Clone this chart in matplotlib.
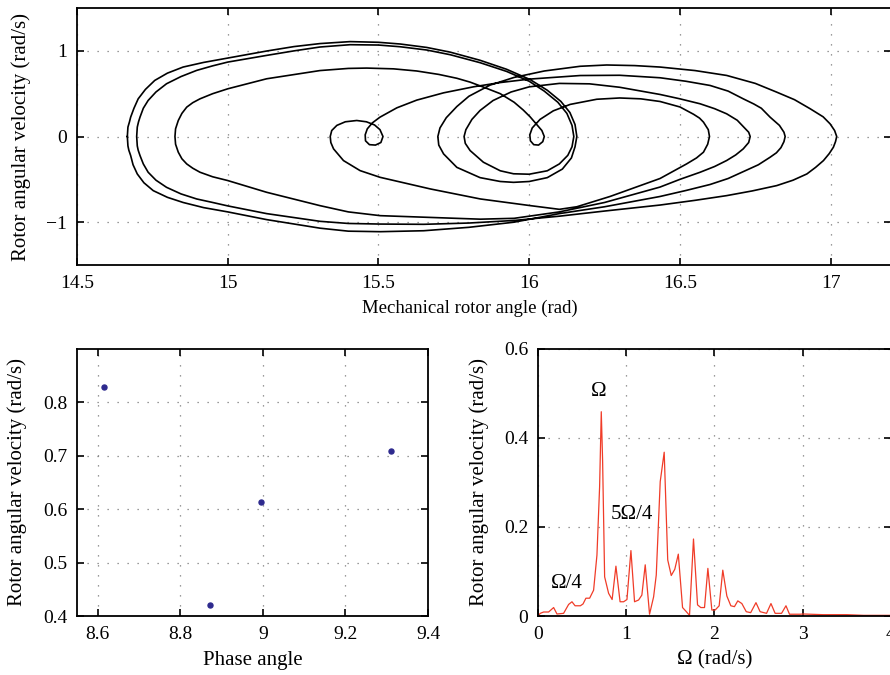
import matplotlib
matplotlib.use('Agg')
import matplotlib.pyplot as plt
import matplotlib.ticker as ticker
import numpy as np

plt.rcParams['font.family'] = ['Liberation Serif', 'DejaVu Serif']

# ---- phase portrait: period-4 orbit (angle rad, velocity rad/s)
# each period starts at the left end of a left loop
period_1 = [(14.667, 0.0), (14.669, 0.11), (14.674, 0.17), (14.678, 0.226), (14.689, 0.33),
            (14.703, 0.44), (14.727, 0.55), (14.758, 0.655), (14.80, 0.74), (14.852, 0.811),
            (14.92, 0.865), (15.0, 0.916), (15.129, 0.998), (15.22, 1.05), (15.306, 1.085),
            (15.406, 1.108), (15.50, 1.10), (15.572, 1.08), (15.66, 1.04), (15.738, 0.985),
            (15.837, 0.89), (15.925, 0.785), (16.003, 0.665), (16.06, 0.54), (16.105, 0.41),
            (16.135, 0.28), (16.152, 0.14), (16.158, 0.0), (16.152, -0.12), (16.14, -0.25),
            (16.11, -0.38), (16.06, -0.48), (16.0, -0.525), (15.948, -0.535), (15.904, -0.525),
            (15.837, -0.48), (15.76, -0.36), (15.716, -0.203), (15.700, -0.10), (15.697, 0.0),
            (15.704, 0.10), (15.725, 0.22), (15.76, 0.35), (15.80, 0.47), (15.87, 0.60),
            (15.95, 0.69), (16.05, 0.765), (16.169, 0.82), (16.257, 0.835), (16.35, 0.828),
            (16.434, 0.811), (16.55, 0.77), (16.655, 0.713), (16.75, 0.62), (16.821, 0.518),
            (16.88, 0.43), (16.932, 0.324), (16.975, 0.23), (16.998, 0.148), (17.013, 0.07),
            (17.020, 0.0), (17.016, -0.06), (17.009, -0.125), (16.995, -0.2), (16.976, -0.281),
            (16.95, -0.36), (16.921, -0.437), (16.875, -0.51), (16.821, -0.573), (16.74, -0.635),
            (16.655, -0.690), (16.55, -0.745), (16.434, -0.80), (16.25, -0.87), (16.10, -0.93),
            (15.95, -0.98), (15.8, -1.01), (15.65, -1.025), (15.506, -1.022), (15.40, -1.015),
            (15.306, -0.99), (15.129, -0.90), (15.0, -0.81), (14.95, -0.77), (14.897, -0.729),
            (14.845, -0.67), (14.797, -0.593), (14.762, -0.51), (14.736, -0.417), (14.72, -0.32),
            (14.709, -0.222), (14.703, -0.16), (14.700, -0.11)]
period_2 = [(14.698, 0.0), (14.700, 0.11), (14.704, 0.17), (14.709, 0.226), (14.72, 0.33),
            (14.736, 0.421), (14.762, 0.52), (14.797, 0.616), (14.845, 0.70), (14.897, 0.772),
            (14.95, 0.825), (15.0, 0.869), (15.129, 0.947), (15.22, 1.0), (15.306, 1.045),
            (15.406, 1.072), (15.50, 1.068), (15.572, 1.048), (15.66, 1.01), (15.738, 0.955),
            (15.837, 0.862), (15.925, 0.76), (16.0, 0.645), (16.05, 0.53), (16.095, 0.40),
            (16.125, 0.27), (16.142, 0.13), (16.148, 0.0), (16.142, -0.12), (16.128, -0.22),
            (16.10, -0.32), (16.06, -0.40), (16.0, -0.44), (15.948, -0.435), (15.904, -0.40),
            (15.848, -0.30), (15.804, -0.164), (15.788, -0.08), (15.784, 0.0), (15.79, 0.08),
            (15.81, 0.2), (15.837, 0.304), (15.88, 0.42), (15.94, 0.52), (16.0, 0.58),
            (16.1, 0.62), (16.2, 0.615), (16.3, 0.575), (16.434, 0.491), (16.50, 0.44),
            (16.567, 0.382), (16.615, 0.325), (16.655, 0.265), (16.69, 0.19), (16.710, 0.117),
            (16.728, 0.05), (16.733, 0.0), (16.728, -0.07), (16.710, -0.144), (16.685, -0.215),
            (16.655, -0.280), (16.615, -0.35), (16.567, -0.417), (16.50, -0.50), (16.434, -0.59),
            (16.25, -0.77), (16.10, -0.88), (15.95, -0.955), (15.838, -0.965), (15.672, -0.945),
            (15.506, -0.924), (15.40, -0.88), (15.306, -0.807), (15.129, -0.651), (15.0, -0.514),
            (14.95, -0.47), (14.908, -0.417), (14.884, -0.37), (14.864, -0.320), (14.848, -0.26),
            (14.836, -0.183), (14.827, -0.09)]
period_3 = [(14.825, 0.0), (14.827, 0.09), (14.836, 0.187), (14.848, 0.27), (14.864, 0.343),
            (14.884, 0.395), (14.908, 0.440), (14.95, 0.50), (15.0, 0.557), (15.129, 0.674),
            (15.306, 0.770), (15.40, 0.795), (15.461, 0.799), (15.55, 0.79), (15.627, 0.765),
            (15.70, 0.725), (15.76, 0.68), (15.804, 0.635), (15.848, 0.577), (15.904, 0.50),
            (15.95, 0.40), (15.98, 0.31), (16.003, 0.23), (16.025, 0.14), (16.042, 0.07),
            (16.050, 0.0), (16.045, -0.06), (16.031, -0.10), (16.015, -0.095), (16.004, -0.05),
            (16.002, 0.02), (16.010, 0.10), (16.036, 0.20), (16.080, 0.30), (16.136, 0.375),
            (16.224, 0.435), (16.30, 0.45), (16.37, 0.44), (16.434, 0.409), (16.50, 0.345),
            (16.545, 0.26), (16.565, 0.215), (16.578, 0.168), (16.594, 0.08), (16.598, 0.0),
            (16.592, -0.09), (16.578, -0.183), (16.555, -0.25), (16.522, -0.320), (16.434, -0.49),
            (16.379, -0.56), (16.268, -0.70), (16.158, -0.82), (16.10, -0.85), (16.004, -0.807),
            (15.838, -0.729), (15.672, -0.612), (15.505, -0.476), (15.439, -0.398), (15.384, -0.281),
            (15.351, -0.144), (15.342, -0.07)]
period_4 = [(15.340, 0.0), (15.345, 0.07), (15.362, 0.13), (15.39, 0.172), (15.428, 0.187),
            (15.46, 0.172), (15.487, 0.135), (15.505, 0.08), (15.515, 0.0), (15.508, -0.07),
            (15.49, -0.10), (15.47, -0.095), (15.457, -0.05), (15.456, 0.02), (15.463, 0.09),
            (15.48, 0.16), (15.505, 0.226), (15.561, 0.335), (15.627, 0.425), (15.716, 0.51),
            (15.815, 0.58), (15.904, 0.63), (16.0, 0.67), (16.169, 0.712), (16.3, 0.715),
            (16.434, 0.686), (16.52, 0.645), (16.600, 0.596), (16.66, 0.53), (16.710, 0.440),
            (16.745, 0.38), (16.77, 0.33), (16.799, 0.226), (16.830, 0.13), (16.845, 0.05),
            (16.849, 0.0), (16.845, -0.06), (16.835, -0.13), (16.82, -0.19), (16.799, -0.242),
            (16.76, -0.33), (16.710, -0.41), (16.66, -0.49), (16.600, -0.56), (16.52, -0.63),
            (16.434, -0.70), (16.25, -0.82), (16.10, -0.90), (15.95, -1.00), (15.8, -1.06),
            (15.65, -1.10), (15.506, -1.111), (15.40, -1.105), (15.306, -1.07), (15.129, -0.97),
            (15.0, -0.88), (14.92, -0.83), (14.852, -0.77), (14.80, -0.71), (14.753, -0.632),
            (14.722, -0.54), (14.700, -0.437), (14.686, -0.33), (14.678, -0.222), (14.672, -0.16),
            (14.669, -0.11), (14.667, 0.0)]

# ---- Poincare section points
phase_angle = [8.615, 8.872, 8.995, 9.31]
phase_velocity = [0.828, 0.420, 0.613, 0.709]

# ---- frequency spectrum
freq = [0, 0.026, 0.064, 0.12, 0.177, 0.215, 0.29, 0.347, 0.385, 0.42, 0.48, 0.51, 0.543,
        0.585, 0.63, 0.668, 0.698, 0.717, 0.732, 0.755, 0.8, 0.84, 0.883, 0.93, 0.97, 1.008,
        1.053, 1.094, 1.14, 1.177, 1.215, 1.264, 1.31, 1.34, 1.385, 1.43, 1.47, 1.51, 1.55,
        1.59, 1.638, 1.675, 1.717, 1.762, 1.808, 1.845, 1.887, 1.925, 1.97, 2.008, 2.053,
        2.094, 2.14, 2.185, 2.226, 2.264, 2.31, 2.36, 2.41, 2.47, 2.517, 2.59, 2.64, 2.687,
        2.76, 2.81, 2.85, 2.97, 3.01, 3.23, 3.5, 3.69, 4.0]
amp = [0.0, 0.006, 0.009, 0.009, 0.019, 0.0045, 0.006, 0.026, 0.032, 0.023, 0.023, 0.027,
       0.04, 0.04, 0.058, 0.137, 0.29, 0.459, 0.35, 0.088, 0.051, 0.037, 0.112, 0.032, 0.032,
       0.037, 0.147, 0.032, 0.036, 0.047, 0.115, 0.004, 0.043, 0.092, 0.302, 0.368, 0.126,
       0.091, 0.105, 0.139, 0.019, 0.011, 0.0015, 0.173, 0.025, 0.019, 0.019, 0.107, 0.0135,
       0.0135, 0.023, 0.103, 0.045, 0.023, 0.021, 0.034, 0.028, 0.0097, 0.0075, 0.03, 0.0097,
       0.006, 0.028, 0.006, 0.006, 0.023, 0.004, 0.004, 0.0045, 0.003, 0.003, 0.0015, 0.0015]
peak_labels = [(0.69, 0.504, 'Ω'), (1.06, 0.227, '5Ω/4'), (0.325, 0.072, 'Ω/4')]

ylab = 'Rotor angular velocity (rad/s)'
FS = 15


def fmt(v, pos):
    return ('%g' % v).replace('-', '\u2212')


def style_axes(ax):
    ax.tick_params(direction='in', top=True, right=True, length=5, width=1.2,
                   labelsize=14, pad=7)
    for s in ax.spines.values():
        s.set_linewidth(1.3)
    ax.grid(True, color='#7a7a7a', linestyle=(0, (1, 7)), linewidth=0.9)
    ax.xaxis.set_major_formatter(ticker.FuncFormatter(fmt))
    ax.yaxis.set_major_formatter(ticker.FuncFormatter(fmt))


fig = plt.figure(figsize=(8.9, 6.75), dpi=100)

# top: phase portrait
ax1 = fig.add_axes([0.0865, 0.6074, 0.9146, 0.3807])
orbit = np.array(period_1 + period_2 + period_3 + period_4)
ax1.plot(orbit[:, 0], orbit[:, 1], color='black', lw=1.2, solid_joinstyle='round')
ax1.set_xlim(14.5, 17.2)
ax1.set_ylim(-1.5, 1.5)
ax1.set_xticks([14.5, 15, 15.5, 16, 16.5, 17])
ax1.set_yticks([-1, 0, 1])
style_axes(ax1)
ax1.set_xlabel('Mechanical rotor angle (rad)', fontsize=13.5)
ax1.set_ylabel(ylab, fontsize=FS)
ax1.xaxis.set_label_coords(0.483, -0.135)
ax1.yaxis.set_label_coords(-0.056, 0.5)

# bottom left: Poincare map
ax2 = fig.add_axes([0.0865, 0.0874, 0.3944, 0.3956])
ax2.plot(phase_angle, phase_velocity, 'o', color='#2e2a8e', markersize=3.6)
ax2.set_xlim(8.55, 9.4)
ax2.set_ylim(0.4, 0.9)
ax2.set_xticks([8.6, 8.8, 9.0, 9.2, 9.4])
ax2.set_yticks([0.4, 0.5, 0.6, 0.7, 0.8])
style_axes(ax2)
ax2.set_xlabel('Phase angle', fontsize=FS)
ax2.set_ylabel(ylab, fontsize=FS)
ax2.xaxis.set_label_coords(0.5, -0.13)
ax2.yaxis.set_label_coords(-0.143, 0.5)

# bottom right: spectrum
ax3 = fig.add_axes([0.6045, 0.0874, 0.3966, 0.3956])
ax3.plot(freq, amp, color='#f03c28', lw=0.9)
for x, y, s in peak_labels:
    ax3.text(x, y, s, fontsize=FS, ha='center', va='center')
ax3.set_xlim(0, 4)
ax3.set_ylim(0, 0.6)
ax3.set_xticks([0, 1, 2, 3, 4])
ax3.set_yticks([0, 0.2, 0.4, 0.6])
style_axes(ax3)
ax3.set_xlabel('Ω (rad/s)', fontsize=FS)
ax3.set_ylabel(ylab, fontsize=FS)
ax3.xaxis.set_label_coords(0.5, -0.13)
ax3.yaxis.set_label_coords(-0.138, 0.5)

fig.savefig('out.png', dpi=100)
